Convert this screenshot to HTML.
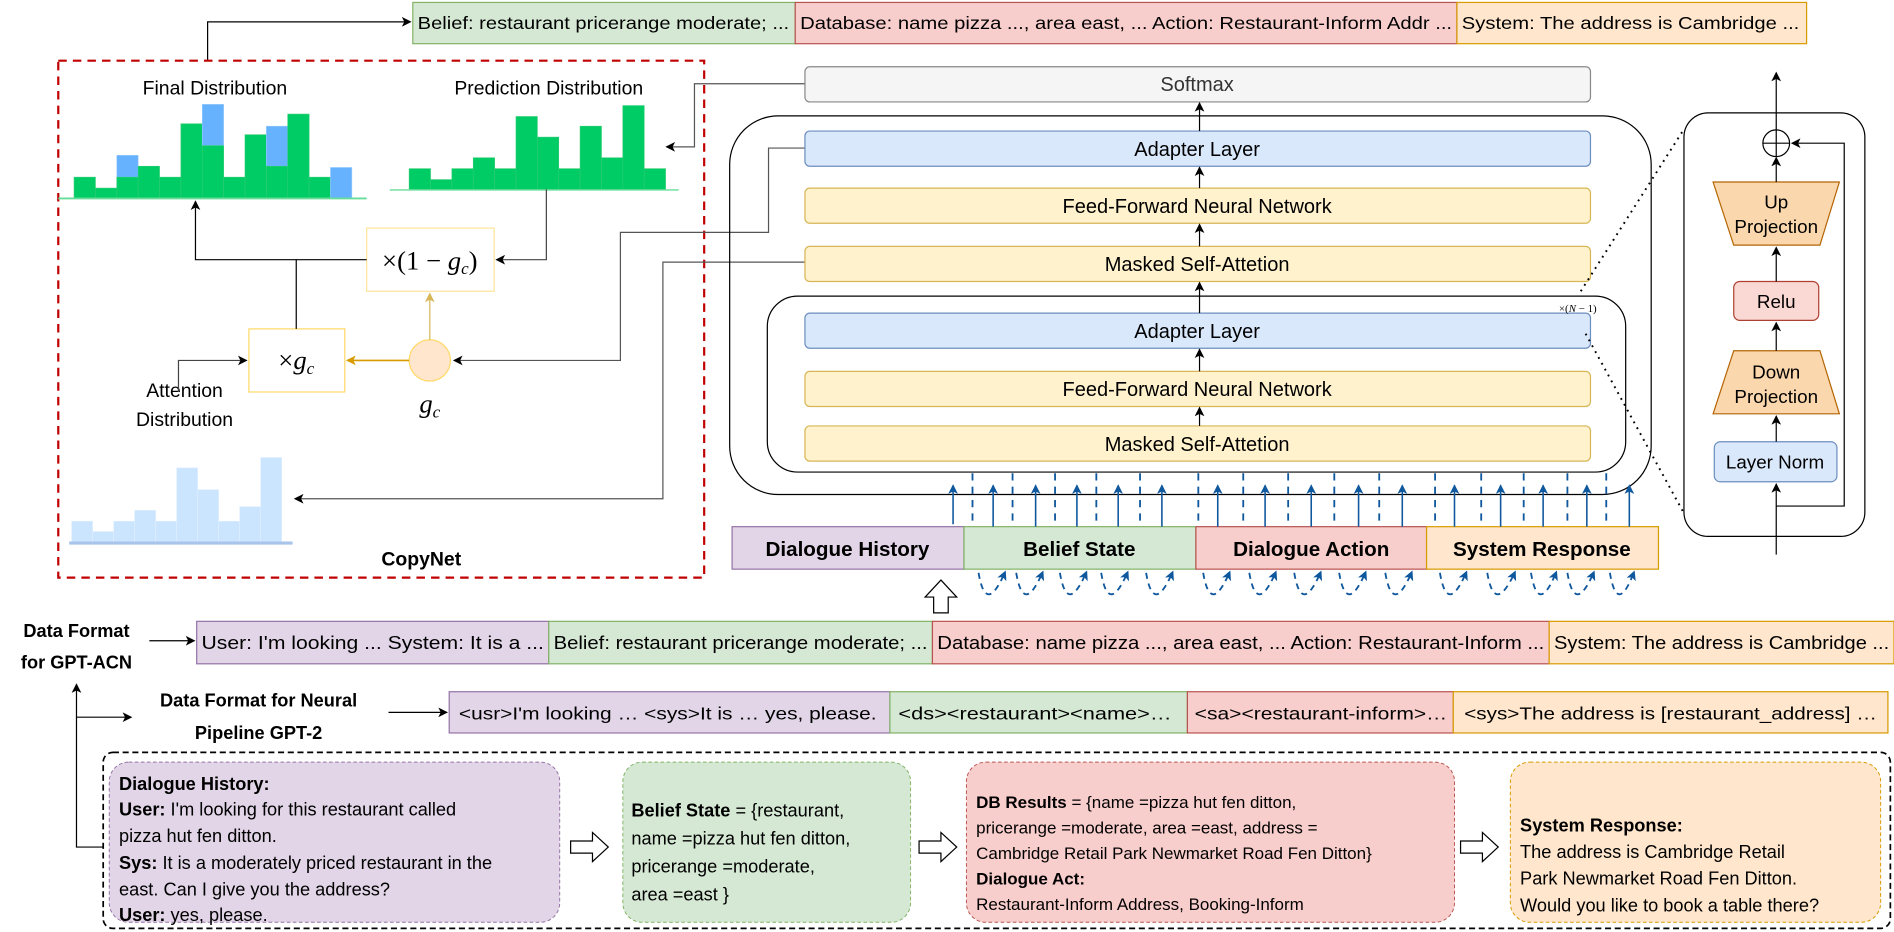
<!DOCTYPE html>
<html><head><meta charset="utf-8"><style>
html,body{margin:0;padding:0;background:#fff;}
svg{display:block;}
text{font-family:"Liberation Sans",sans-serif;fill:#000;}
.m{font-family:"Liberation Serif",serif;font-style:italic;}
.b{font-weight:bold;}
</style></head><body>
<svg width="1894" height="932" viewBox="0 0 1560 768" preserveAspectRatio="none" xmlns="http://www.w3.org/2000/svg">
<defs>
<marker id="ak" markerWidth="8" markerHeight="8" refX="7" refY="4" orient="auto" markerUnits="userSpaceOnUse"><path d="M0,0 L8,4 L0,8 L2,4 z" fill="#000"/></marker>
<marker id="ay" markerWidth="8" markerHeight="8" refX="7" refY="4" orient="auto" markerUnits="userSpaceOnUse"><path d="M0,0 L8,4 L0,8 L2,4 z" fill="#d6b656"/></marker>
<marker id="ao" markerWidth="8" markerHeight="8" refX="7" refY="4" orient="auto" markerUnits="userSpaceOnUse"><path d="M0,0 L8,4 L0,8 L2,4 z" fill="#d79b00"/></marker>
<marker id="ab" markerWidth="8" markerHeight="8" refX="7" refY="4" orient="auto" markerUnits="userSpaceOnUse"><path d="M0,0 L8,4 L0,8 L2,4 z" fill="#10589e"/></marker>
</defs>

<!-- top bar -->
<rect x="340" y="2" width="315" height="34" fill="#d5e8d4" stroke="#82b366"/>
<rect x="655" y="2" width="545" height="34" fill="#f8cecc" stroke="#b85450"/>
<rect x="1200" y="2" width="288" height="34" fill="#ffe6cc" stroke="#d79b00"/>
<text x="344" y="24" font-size="14.5" textLength="306" lengthAdjust="spacingAndGlyphs">Belief: restaurant pricerange moderate; ...</text>
<text x="659" y="24" font-size="14.5" textLength="537" lengthAdjust="spacingAndGlyphs">Database: name pizza ..., area east, ... Action: Restaurant-Inform Addr ...</text>
<text x="1204" y="24" font-size="14.5" textLength="278" lengthAdjust="spacingAndGlyphs">System: The address is Cambridge ...</text>
<polyline points="171,50 171,18 338,18" fill="none" stroke="#000" marker-end="url(#ak)"/>

<!-- CopyNet box -->
<rect x="48" y="50" width="532" height="426" fill="none" stroke="#c00000" stroke-width="1.8" stroke-dasharray="7,5"/>
<text x="177" y="78" font-size="16" text-anchor="middle">Final Distribution</text>
<text x="452" y="78" font-size="16" text-anchor="middle">Prediction Distribution</text>
<text x="347" y="466" font-size="16" class="b" text-anchor="middle">CopyNet</text>

<g stroke="#2ecc71" stroke-width="0.5">
<rect x="61" y="146" width="17.6" height="17" fill="#00cc66"/>
<rect x="78.6" y="155" width="17.6" height="8" fill="#00cc66"/>
<rect x="96.2" y="128" width="17.6" height="18" fill="#66b2ff" stroke="#99ccff"/>
<rect x="96.2" y="146" width="17.6" height="17" fill="#00cc66"/>
<rect x="113.8" y="137" width="17.6" height="26" fill="#00cc66"/>
<rect x="131.4" y="146" width="17.6" height="17" fill="#00cc66"/>
<rect x="149" y="102" width="17.6" height="61" fill="#00cc66"/>
<rect x="166.6" y="86" width="17.6" height="34" fill="#66b2ff" stroke="#99ccff"/>
<rect x="166.6" y="120" width="17.6" height="43" fill="#00cc66"/>
<rect x="184.2" y="146" width="17.6" height="17" fill="#00cc66"/>
<rect x="201.8" y="111" width="17.6" height="52" fill="#00cc66"/>
<rect x="219.4" y="104" width="17.6" height="33" fill="#66b2ff" stroke="#99ccff"/>
<rect x="219.4" y="137" width="17.6" height="26" fill="#00cc66"/>
<rect x="237" y="94" width="17.6" height="69" fill="#00cc66"/>
<rect x="254.6" y="146" width="17.6" height="17" fill="#00cc66"/>
<rect x="272.2" y="138" width="17.6" height="25" fill="#66b2ff" stroke="#99ccff"/>
</g>
<line x1="48" y1="163.5" x2="302" y2="163.5" stroke="#66dd99" stroke-width="1.5"/>

<g stroke="#2ecc71" stroke-width="0.5" fill="#00cc66">
<rect x="337" y="139" width="17.6" height="17"/>
<rect x="354.6" y="148" width="17.6" height="8"/>
<rect x="372.2" y="139" width="17.6" height="17"/>
<rect x="389.8" y="130" width="17.6" height="26"/>
<rect x="407.4" y="139" width="17.6" height="17"/>
<rect x="425" y="96" width="17.6" height="60"/>
<rect x="442.6" y="113" width="17.6" height="43"/>
<rect x="460.2" y="139" width="17.6" height="17"/>
<rect x="477.8" y="104" width="17.6" height="52"/>
<rect x="495.4" y="130" width="17.6" height="26"/>
<rect x="513" y="87" width="17.6" height="69"/>
<rect x="530.6" y="139" width="17.6" height="17"/>
</g>
<line x1="321" y1="156.5" x2="559" y2="156.5" stroke="#66dd99" stroke-width="1.2"/>

<!-- attention bars -->
<g fill="#cce5ff" stroke="#e0efff" stroke-width="0.5">
<rect x="59" y="429.5" width="17.3" height="17"/>
<rect x="76.3" y="438" width="17.3" height="8.5"/>
<rect x="93.6" y="429.5" width="17.3" height="17"/>
<rect x="110.9" y="420.5" width="17.3" height="26"/>
<rect x="128.2" y="429.5" width="17.3" height="17"/>
<rect x="145.5" y="385.5" width="17.3" height="61"/>
<rect x="162.8" y="403.5" width="17.3" height="43"/>
<rect x="180.1" y="429.5" width="17.3" height="17"/>
<rect x="197.4" y="417.5" width="17.3" height="29"/>
<rect x="214.7" y="377" width="17.3" height="69.5"/>
</g>
<line x1="57" y1="447.5" x2="241" y2="447.5" stroke="#a9c4eb" stroke-width="2.5"/>
<text x="152" y="327" font-size="16" text-anchor="middle">Attention</text>
<text x="152" y="351" font-size="16" text-anchor="middle">Distribution</text>

<!-- gate boxes -->
<rect x="302" y="188" width="105" height="52" fill="#fff" stroke="#ffe599"/>
<text x="354" y="222" font-size="22" class="m" text-anchor="middle" style="font-style:normal">×(1 − <tspan font-style="italic">g</tspan><tspan font-size="14" font-style="italic" dy="4">c</tspan><tspan dy="-4">)</tspan></text>
<rect x="205" y="271" width="79" height="52" fill="#fff" stroke="#ffd966"/>
<text x="244" y="304" font-size="22" class="m" text-anchor="middle" style="font-style:normal">×<tspan font-style="italic">g</tspan><tspan font-size="14" font-style="italic" dy="4">c</tspan></text>
<ellipse cx="354" cy="297" rx="17" ry="17" fill="#ffe6cc" stroke="#ffd966"/>
<text x="354" y="340" font-size="22" class="m" text-anchor="middle">g<tspan font-size="14" dy="4">c</tspan></text>
<line x1="354" y1="280" x2="354" y2="242" stroke="#d6b656" marker-end="url(#ay)"/>
<line x1="337" y1="297" x2="286" y2="297" stroke="#d79b00" stroke-width="1.3" marker-end="url(#ao)"/>

<polyline points="450,156 450,214 409,214" fill="none" stroke="#444" marker-end="url(#ak)"/>
<polyline points="302,214 161,214 161,166" fill="none" stroke="#000" marker-end="url(#ak)"/>
<line x1="244" y1="214" x2="244" y2="271" stroke="#000"/>
<polyline points="147,323 147,297 203,297" fill="none" stroke="#444" marker-end="url(#ak)"/>

<polyline points="663,69 572,69 572,121 549,121" fill="none" stroke="#555" marker-end="url(#ak)"/>
<polyline points="663,122 633,122 633,191.5 511,191.5 511,297 374,297" fill="none" stroke="#555" marker-end="url(#ak)"/>
<polyline points="663,216 546,216 546,411 243,411" fill="none" stroke="#555" marker-end="url(#ak)"/>

<!-- transformer -->
<rect x="663" y="55" width="647" height="29" rx="4" fill="#f5f5f5" stroke="#888"/>
<text x="986" y="75" font-size="16.5" text-anchor="middle" style="fill:#333">Softmax</text>
<rect x="601" y="95.5" width="759" height="312" rx="40" fill="none" stroke="#000"/>
<rect x="663" y="108" width="647" height="29" rx="4" fill="#dae8fc" stroke="#6c8ebf"/>
<text x="986" y="128.5" font-size="16.5" text-anchor="middle">Adapter Layer</text>
<rect x="663" y="155" width="647" height="29" rx="4" fill="#fff2cc" stroke="#d6b656"/>
<text x="986" y="175.5" font-size="16.5" text-anchor="middle">Feed-Forward Neural Network</text>
<rect x="663" y="203" width="647" height="29" rx="4" fill="#fff2cc" stroke="#d6b656"/>
<text x="986" y="223.5" font-size="16.5" text-anchor="middle">Masked Self-Attetion</text>
<rect x="632" y="244" width="707" height="145" rx="25" fill="none" stroke="#000"/>
<rect x="663" y="258" width="647" height="29" rx="4" fill="#dae8fc" stroke="#6c8ebf"/>
<text x="986" y="278.5" font-size="16.5" text-anchor="middle">Adapter Layer</text>
<rect x="663" y="306" width="647" height="29" rx="4" fill="#fff2cc" stroke="#d6b656"/>
<text x="986" y="326.5" font-size="16.5" text-anchor="middle">Feed-Forward Neural Network</text>
<rect x="663" y="351" width="647" height="29" rx="4" fill="#fff2cc" stroke="#d6b656"/>
<text x="986" y="371.5" font-size="16.5" text-anchor="middle">Masked Self-Attetion</text>
<text x="1284" y="257" font-size="9" class="m" style="font-style:normal">×(<tspan font-style="italic">N</tspan> − 1)</text>
<g stroke="#000" marker-end="url(#ak)">
<line x1="988" y1="108" x2="988" y2="85"/>
<line x1="988" y1="155" x2="988" y2="138"/>
<line x1="988" y1="203" x2="988" y2="185"/>
<line x1="988" y1="258" x2="988" y2="233"/>
<line x1="988" y1="306" x2="988" y2="288"/>
<line x1="988" y1="351" x2="988" y2="336"/>
</g>

<!-- bottom segments -->
<rect x="603" y="434" width="191" height="35" fill="#e1d5e7" stroke="#9673a6"/>
<rect x="794" y="434" width="191" height="35" fill="#d5e8d4" stroke="#82b366"/>
<rect x="985" y="434" width="190" height="35" fill="#f8cecc" stroke="#b85450"/>
<rect x="1175" y="434" width="191" height="35" fill="#ffe6cc" stroke="#d79b00"/>
<text x="698" y="458" font-size="17" class="b" text-anchor="middle">Dialogue History</text>
<text x="889" y="458" font-size="17" class="b" text-anchor="middle">Belief State</text>
<text x="1080" y="458" font-size="17" class="b" text-anchor="middle">Dialogue Action</text>
<text x="1270" y="458" font-size="17" class="b" text-anchor="middle">System Response</text>

<g stroke="#10589e" stroke-width="1.3" marker-end="url(#ab)">
<line x1="785" y1="432" x2="785" y2="400"/><line x1="818" y1="434" x2="818" y2="400"/>
<line x1="853" y1="434" x2="853" y2="400"/><line x1="887" y1="434" x2="887" y2="400"/>
<line x1="921" y1="434" x2="921" y2="400"/><line x1="957" y1="434" x2="957" y2="400"/>
<line x1="1003" y1="434" x2="1003" y2="400"/><line x1="1042" y1="434" x2="1042" y2="400"/>
<line x1="1080" y1="434" x2="1080" y2="400"/><line x1="1119" y1="434" x2="1119" y2="400"/>
<line x1="1155" y1="434" x2="1155" y2="400"/><line x1="1198" y1="434" x2="1198" y2="400"/>
<line x1="1236" y1="434" x2="1236" y2="400"/><line x1="1271" y1="434" x2="1271" y2="400"/>
<line x1="1307" y1="434" x2="1307" y2="400"/><line x1="1342" y1="434" x2="1342" y2="400"/>
</g>
<g stroke="#10589e" stroke-width="1.5" stroke-dasharray="6,5">
<line x1="801" y1="390" x2="801" y2="432"/><line x1="834" y1="390" x2="834" y2="432"/>
<line x1="869" y1="390" x2="869" y2="432"/><line x1="903" y1="390" x2="903" y2="432"/>
<line x1="939" y1="390" x2="939" y2="432"/><line x1="987" y1="390" x2="987" y2="432"/>
<line x1="1024" y1="390" x2="1024" y2="432"/><line x1="1061" y1="390" x2="1061" y2="432"/>
<line x1="1099" y1="390" x2="1099" y2="432"/><line x1="1136" y1="390" x2="1136" y2="432"/>
<line x1="1182" y1="390" x2="1182" y2="432"/><line x1="1220" y1="390" x2="1220" y2="432"/>
<line x1="1255" y1="390" x2="1255" y2="432"/><line x1="1291" y1="390" x2="1291" y2="432"/>
<line x1="1323" y1="390" x2="1323" y2="432"/>
</g>
<g fill="none" stroke="#10589e" stroke-width="1.5" stroke-dasharray="5,4" marker-end="url(#ab)">
<path d="M806,472 Q812,508 828,471"/><path d="M837,472 Q843,508 859,471"/>
<path d="M873,472 Q879,508 895,471"/><path d="M907,472 Q913,508 929,471"/>
<path d="M944,472 Q950,508 966,471"/><path d="M991,472 Q997,508 1013,471"/>
<path d="M1029,472 Q1035,508 1051,471"/><path d="M1066,472 Q1072,508 1088,471"/>
<path d="M1103,472 Q1109,508 1125,471"/><path d="M1141,472 Q1147,508 1163,471"/>
<path d="M1186,472 Q1192,508 1208,471"/><path d="M1225,472 Q1231,508 1248,471"/>
<path d="M1261,472 Q1267,508 1282,471"/><path d="M1291,472 Q1297,508 1313,471"/>
<path d="M1326,472 Q1332,508 1346,471"/>
</g>
<path d="M769,505 L769,492 L762,492 L775,478 L788,492 L781,492 L781,505 Z" fill="#fff" stroke="#000"/>

<line x1="1302" y1="240" x2="1386" y2="108" stroke="#000" stroke-width="1.6" stroke-dasharray="1.5,4"/>
<line x1="1306" y1="275" x2="1387" y2="423" stroke="#000" stroke-width="1.6" stroke-dasharray="1.5,4"/>

<!-- adapter detail -->
<rect x="1387" y="93" width="149" height="349" rx="20" fill="none" stroke="#000"/>
<line x1="1463" y1="457" x2="1463" y2="399" stroke="#000" marker-end="url(#ak)"/>
<rect x="1412" y="364" width="101" height="33" rx="5" fill="#dae8fc" stroke="#6c8ebf"/>
<text x="1462" y="386" font-size="15.5" text-anchor="middle">Layer Norm</text>
<line x1="1463" y1="364" x2="1463" y2="343" stroke="#000" marker-end="url(#ak)"/>
<polygon points="1428,289 1499,289 1515,341 1411,341" fill="#fad7ac" stroke="#b46504"/>
<text x="1463" y="312" font-size="15.5" text-anchor="middle">Down</text>
<text x="1463" y="332" font-size="15.5" text-anchor="middle">Projection</text>
<line x1="1463" y1="289" x2="1463" y2="266" stroke="#000" marker-end="url(#ak)"/>
<rect x="1428" y="232" width="70" height="32" rx="5" fill="#fad9d5" stroke="#ae4132"/>
<text x="1463" y="254" font-size="15.5" text-anchor="middle">Relu</text>
<line x1="1463" y1="232" x2="1463" y2="204" stroke="#000" marker-end="url(#ak)"/>
<polygon points="1411,150 1515,150 1499,202 1428,202" fill="#fad7ac" stroke="#b46504"/>
<text x="1463" y="172" font-size="15.5" text-anchor="middle">Up</text>
<text x="1463" y="192" font-size="15.5" text-anchor="middle">Projection</text>
<line x1="1463" y1="150" x2="1463" y2="130" stroke="#000" marker-end="url(#ak)"/>
<circle cx="1463" cy="118" r="11" fill="#fff" stroke="#000"/>
<line x1="1452" y1="118" x2="1474" y2="118" stroke="#000"/>
<line x1="1463" y1="107" x2="1463" y2="129" stroke="#000"/>
<line x1="1463" y1="107" x2="1463" y2="60" stroke="#000" marker-end="url(#ak)"/>
<polyline points="1463,417 1519,417 1519,118 1476,118" fill="none" stroke="#000" marker-end="url(#ak)"/>

<!-- data formats -->
<text x="63" y="525" font-size="15" class="b" text-anchor="middle">Data Format</text>
<text x="63" y="551" font-size="15" class="b" text-anchor="middle">for GPT-ACN</text>
<line x1="123" y1="528" x2="160" y2="528" stroke="#000" marker-end="url(#ak)"/>
<rect x="162" y="512" width="290" height="35" fill="#e1d5e7" stroke="#9673a6"/>
<rect x="452" y="512" width="316" height="35" fill="#d5e8d4" stroke="#82b366"/>
<rect x="768" y="512" width="508" height="35" fill="#f8cecc" stroke="#b85450"/>
<rect x="1276" y="512" width="284" height="35" fill="#ffe6cc" stroke="#d79b00"/>
<text x="166" y="535" font-size="15" textLength="282" lengthAdjust="spacingAndGlyphs">User: I'm looking ... System: It is a ...</text>
<text x="456" y="535" font-size="15" textLength="308" lengthAdjust="spacingAndGlyphs">Belief: restaurant pricerange moderate; ...</text>
<text x="772" y="535" font-size="15" textLength="500" lengthAdjust="spacingAndGlyphs">Database: name pizza ..., area east, ... Action: Restaurant-Inform ...</text>
<text x="1280" y="535" font-size="15" textLength="276" lengthAdjust="spacingAndGlyphs">System: The address is Cambridge ...</text>

<text x="213" y="582" font-size="15" class="b" text-anchor="middle">Data Format for Neural</text>
<text x="213" y="609" font-size="15" class="b" text-anchor="middle">Pipeline GPT-2</text>
<line x1="320" y1="587" x2="368" y2="587" stroke="#000" marker-end="url(#ak)"/>
<rect x="370" y="570" width="363" height="34" fill="#e1d5e7" stroke="#9673a6"/>
<rect x="733" y="570" width="245" height="34" fill="#d5e8d4" stroke="#82b366"/>
<rect x="978" y="570" width="219" height="34" fill="#f8cecc" stroke="#b85450"/>
<rect x="1197" y="570" width="358" height="34" fill="#ffe6cc" stroke="#d79b00"/>
<text x="378" y="593" font-size="14.5" textLength="344" lengthAdjust="spacingAndGlyphs">&lt;usr&gt;I'm looking … &lt;sys&gt;It is … yes, please.</text>
<text x="740" y="593" font-size="14.5" textLength="225" lengthAdjust="spacingAndGlyphs">&lt;ds&gt;&lt;restaurant&gt;&lt;name&gt;…</text>
<text x="984" y="593" font-size="14.5" textLength="208" lengthAdjust="spacingAndGlyphs">&lt;sa&gt;&lt;restaurant-inform&gt;…</text>
<text x="1206" y="593" font-size="14.5" textLength="340" lengthAdjust="spacingAndGlyphs">&lt;sys&gt;The address is [restaurant_address] …</text>

<polyline points="85,698 63,698 63,564" fill="none" stroke="#000" marker-end="url(#ak)"/>
<polyline points="63,591 108,591" fill="none" stroke="#000" marker-end="url(#ak)"/>

<!-- examples -->
<rect x="85" y="620" width="1472" height="145" rx="8" fill="none" stroke="#000" stroke-width="1.4" stroke-dasharray="5,3"/>
<rect x="90" y="628" width="371" height="132" rx="16" fill="#e1d5e7" stroke="#9673a6" stroke-width="0.8" stroke-dasharray="3,2"/>
<rect x="513" y="628" width="237" height="132" rx="16" fill="#d5e8d4" stroke="#82b366" stroke-width="0.8" stroke-dasharray="3,2"/>
<rect x="796" y="628" width="402" height="132" rx="16" fill="#f8cecc" stroke="#b85450" stroke-width="0.8" stroke-dasharray="3,2"/>
<rect x="1244" y="628" width="305" height="132" rx="16" fill="#ffe6cc" stroke="#d79b00" stroke-width="0.8" stroke-dasharray="3,2"/>
<g font-size="15">
<text x="98" y="651"><tspan class="b">Dialogue History:</tspan></text>
<text x="98" y="672"><tspan class="b">User:</tspan> I'm looking for this restaurant called</text>
<text x="98" y="694">pizza hut fen ditton.</text>
<text x="98" y="716"><tspan class="b">Sys:</tspan> It is a moderately priced restaurant in the</text>
<text x="98" y="738">east. Can I give you the address?</text>
<text x="98" y="759"><tspan class="b">User:</tspan> yes, please.</text>
<text x="520" y="673"><tspan class="b">Belief State</tspan> = {restaurant,</text>
<text x="520" y="696">name =pizza hut fen ditton,</text>
<text x="520" y="719">pricerange =moderate,</text>
<text x="520" y="742">area =east }</text>
<g font-size="14">
<text x="804" y="666"><tspan class="b">DB Results</tspan> = {name =pizza hut fen ditton,</text>
<text x="804" y="687">pricerange =moderate, area =east, address =</text>
<text x="804" y="708">Cambridge Retail Park Newmarket Road Fen Ditton}</text>
<text x="804" y="729" class="b">Dialogue Act:</text>
<text x="804" y="750">Restaurant-Inform Address, Booking-Inform</text>
</g>
<text x="1252" y="685" class="b">System Response:</text>
<text x="1252" y="707">The address is Cambridge Retail</text>
<text x="1252" y="729">Park Newmarket Road Fen Ditton.</text>
<text x="1252" y="751">Would you like to book a table there?</text>
</g>
<g fill="#fff" stroke="#000">
<path d="M470,693 L488,693 L488,686 L501,698 L488,710 L488,703 L470,703 Z"/>
<path d="M757,693 L775,693 L775,686 L788,698 L775,710 L775,703 L757,703 Z"/>
<path d="M1203,693 L1221,693 L1221,686 L1234,698 L1221,710 L1221,703 L1203,703 Z"/>
</g>
</svg>
</body></html>
